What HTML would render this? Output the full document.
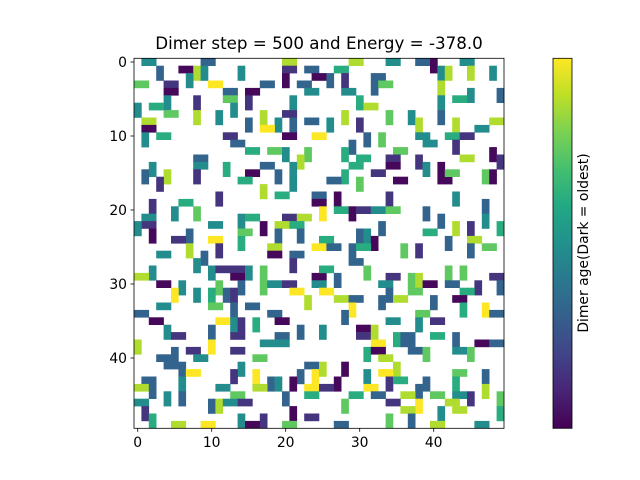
<!DOCTYPE html>
<html><head><meta charset="utf-8"><style>
html,body{margin:0;padding:0;background:#fff;}
svg{display:block;font-family:"DejaVu Sans","Liberation Sans",sans-serif;}
</style></head><body>
<svg id="chart" width="640" height="480" viewBox="0 0 640 480">
<defs><linearGradient id="vir" x1="0" y1="1" x2="0" y2="0">
<stop offset="0" stop-color="#440154"/><stop offset="0.1" stop-color="#482475"/><stop offset="0.2" stop-color="#414487"/><stop offset="0.3" stop-color="#355f8d"/><stop offset="0.4" stop-color="#2a788e"/><stop offset="0.5" stop-color="#21918c"/><stop offset="0.6" stop-color="#22a884"/><stop offset="0.7" stop-color="#44bf70"/><stop offset="0.8" stop-color="#7ad151"/><stop offset="0.9" stop-color="#bddf26"/><stop offset="1" stop-color="#fde725"/></linearGradient></defs>
<text x="319" y="49" text-anchor="middle" font-size="16.7" fill="#000">Dimer step = 500 and Energy = -378.0</text>
<g id="cells"></g>
<rect x="134" y="58.3" width="370" height="370" fill="none" stroke="#000" stroke-width="0.8"/>
<g id="xticks"></g>
<g id="yticks"></g>
<rect x="553" y="58.3" width="19" height="370" fill="url(#vir)" stroke="#000" stroke-width="0.8"/>
<text transform="translate(588,243) rotate(-90)" text-anchor="middle" font-size="13.9" fill="#000">Dimer age(Dark = oldest)</text>
</svg>
<script>
const gridSize = 50;
const xTickValues = [0, 10, 20, 30, 40];
const yTickValues = [0, 10, 20, 30, 40];
const ageLevels = {a:0.02,b:0.15,c:0.32,d:0.48,e:0.62,f:0.75,g:0.88,h:1.0};
// each dimer: [row, col, direction (h/v), age level]
const dimers = [
[0,1,'h','d'],[0,9,'h','c'],[0,20,'h','g'],[1,3,'v','c'],[1,6,'h','a'],[1,8,'v','g'],[1,9,'v','d'],[1,14,'v','d'],[1,20,'h','b'],[1,23,'h','c'],[2,24,'h','a'],[2,20,'v','a'],[3,0,'h','f'],[3,4,'h','b'],[2,7,'v','d'],[3,10,'h','h'],[3,17,'h','c'],[3,22,'h','c'],[4,4,'h','a'],[4,12,'h','c'],[4,15,'h','a'],[4,23,'h','d'],[5,4,'v','d'],[5,8,'v','b'],[5,12,'h','f'],[5,15,'v','b'],[5,21,'v','d'],[6,0,'v','d'],[6,2,'h','e'],[6,13,'v','d'],[7,4,'h','f'],[7,8,'v','g'],[7,11,'v','d'],[7,17,'v','g'],[7,20,'h','b'],[8,1,'h','g'],[8,15,'v','c'],[8,19,'v','d'],[8,21,'v','c'],[8,23,'h','c'],[9,1,'h','a'],[9,17,'h','h'],[10,1,'v','d'],[10,3,'h','e'],[10,12,'h','b'],[10,20,'h','a'],[10,24,'h','h'],[11,13,'h','c'],[12,15,'h','e'],[12,18,'h','f'],[12,20,'v','d'],[12,23,'v','f'],[13,8,'h','c'],[13,22,'v','g'],[14,8,'h','d'],[14,2,'v','d'],[14,12,'v','e'],[14,17,'h','c'],[14,21,'v','d'],[15,1,'v','c'],[15,4,'v','g'],[15,8,'v','b'],[15,15,'h','a'],[15,19,'v','c'],[16,3,'v','b'],[16,14,'h','e'],[16,21,'v','d'],[17,17,'v','g'],[18,11,'v','b'],[18,19,'h','e'],[18,24,'h','c'],[19,2,'v','b'],[19,6,'h','e'],[19,24,'h','a'],[20,5,'v','d'],[20,8,'v','f'],[21,1,'h','d'],[21,14,'v','d'],[21,15,'h','e'],[21,20,'h','b'],[21,22,'h','g'],[22,1,'h','b'],[22,0,'v','d'],[22,10,'h','d'],[22,17,'v','a'],[22,19,'h','g'],[22,21,'h','e'],[23,2,'v','a'],[23,7,'v','c'],[23,14,'h','f'],[23,19,'v','c'],[23,22,'v','c'],[24,5,'h','b'],[24,10,'h','h'],[24,14,'v','e'],
[0,29,'h','g'],[0,34,'h','d'],[0,38,'h','c'],[0,40,'v','a'],[0,44,'h','d'],[1,27,'h','e'],[1,41,'v','d'],[1,42,'v','g'],[1,45,'v','g'],[1,48,'v','d'],[2,26,'v','c'],[2,28,'v','b'],[2,32,'h','c'],[3,32,'v','c'],[3,33,'h','f'],[3,41,'v','g'],[4,28,'h','d'],[4,45,'v','d'],[4,49,'v','c'],[5,30,'v','e'],[6,31,'h','g'],[5,41,'v','d'],[5,43,'h','e'],[7,41,'v','c'],[7,28,'v','g'],[7,34,'v','f'],[7,37,'v','d'],[8,26,'v','d'],[8,30,'v','b'],[8,38,'v','g'],[8,43,'v','g'],[8,48,'h','g'],[9,46,'h','d'],[10,31,'v','c'],[10,33,'v','f'],[10,38,'h','d'],[10,42,'h','e'],[10,44,'h','b'],[11,29,'v','c'],[11,39,'h','d'],[11,43,'v','b'],[12,28,'v','e'],[12,35,'h','f'],[12,48,'v','a'],[13,30,'h','e'],[13,34,'h','b'],[14,34,'h','a'],[13,38,'v','b'],[13,44,'h','g'],[13,49,'v','b'],[14,29,'h','e'],[14,39,'v','d'],[14,41,'v','a'],[16,41,'h','a'],[15,42,'h','f'],[15,28,'v','e'],[15,32,'h','b'],[15,47,'v','f'],[15,48,'v','a'],[16,26,'h','c'],[16,30,'v','f'],[16,35,'h','a'],[18,27,'v','a'],[18,34,'v','b'],[18,43,'v','d'],[19,47,'v','c'],[20,25,'v','h'],[20,27,'h','e'],[20,29,'v','a'],[20,30,'h','b'],[20,32,'h','d'],[20,34,'h','f'],[20,39,'v','c'],[21,41,'v','c'],[21,47,'v','d'],[22,33,'v','c'],[22,43,'v','g'],[22,45,'v','b'],[22,49,'v','e'],[23,30,'v','c'],[23,31,'v','d'],[23,39,'h','e'],[24,25,'h','e'],[24,32,'v','a'],[24,42,'v','c'],[24,45,'h','g'],
[25,7,'v','g'],[25,11,'v','b'],[25,18,'h','g'],[25,24,'h','h'],[26,3,'h','d'],[26,9,'v','c'],[26,18,'h','a'],[26,21,'h','c'],[27,8,'v','d'],[28,2,'v','d'],[28,10,'v','d'],[28,11,'h','b'],[28,13,'h','b'],[29,13,'h','a'],[28,15,'v','d'],[28,17,'v','f'],[27,21,'v','b'],[29,0,'h','g'],[29,24,'h','a'],[30,3,'h','a'],[30,6,'v','d'],[30,11,'v','f'],[30,14,'v','c'],[30,17,'v','f'],[30,18,'h','d'],[30,20,'h','b'],[30,24,'h','d'],[31,5,'v','h'],[31,8,'v','d'],[31,10,'v','e'],[31,12,'v','c'],[31,13,'v','b'],[31,21,'h','h'],[33,3,'h','d'],[33,10,'h','f'],[33,13,'v','c'],[33,15,'h','c'],[32,23,'v','g'],[34,0,'h','c'],[34,18,'h','c'],[35,2,'h','a'],[35,11,'h','h'],[35,13,'v','d'],[35,14,'v','b'],[35,16,'v','e'],[35,19,'h','a'],[36,4,'v','d'],[37,5,'h','b'],[36,10,'v','c'],[37,13,'h','b'],[37,19,'h','c'],[36,22,'v','c'],[38,0,'v','g'],[38,10,'v','h'],[38,17,'h','d'],[38,19,'h','d'],[39,5,'v','c'],[39,7,'h','b'],[39,13,'h','b'],[40,8,'h','d'],[40,3,'h','c'],[40,16,'h','f'],[41,4,'h','c'],[41,6,'v','c'],[41,14,'v','d'],[41,23,'h','c'],[42,7,'h','h'],[42,13,'v','b'],[42,16,'v','h'],[42,22,'v','c'],[42,24,'v','h'],[43,1,'h','c'],[43,6,'v','d'],[43,18,'v','c'],[43,19,'v','d'],[43,21,'v','a'],[44,0,'h','g'],[44,2,'v','c'],[44,11,'h','d'],[44,16,'h','g'],[44,23,'h','h'],[45,23,'h','e'],[46,0,'h','d'],[45,4,'v','d'],[45,6,'v','c'],[45,13,'h','f'],[45,20,'v','c'],[46,10,'v','c'],[46,11,'v','g'],[46,12,'h','d'],[46,14,'h','b'],[47,1,'v','b'],[47,21,'v','a'],[48,23,'h','b'],[48,2,'v','e'],[49,5,'h','g'],[49,9,'h','h'],[48,14,'v','d'],[49,15,'h','a'],[48,17,'v','b'],[49,20,'h','f'],
[25,26,'h','c'],[25,29,'v','c'],[27,29,'h','c'],[25,30,'h','e'],[25,36,'v','f'],[25,38,'v','b'],[25,45,'v','c'],[25,47,'h','f'],[28,25,'h','e'],[28,31,'v','f'],[28,42,'v','f'],[28,44,'v','f'],[29,27,'v','c'],[29,34,'h','b'],[29,37,'v','f'],[29,38,'v','g'],[29,48,'h','b'],[30,33,'h','d'],[30,39,'h','a'],[30,42,'h','c'],[30,46,'v','b'],[30,49,'v','c'],[31,25,'h','h'],[31,34,'v','c'],[31,37,'h','f'],[31,44,'h','e'],[32,27,'h','g'],[32,29,'h','c'],[32,33,'v','c'],[32,35,'h','g'],[32,40,'v','c'],[32,43,'h','a'],[33,29,'v','h'],[33,44,'v','e'],[33,47,'v','h'],[34,28,'v','c'],[34,38,'h','f'],[34,48,'h','c'],[35,34,'h','d'],[35,38,'v','d'],[35,40,'h','b'],[36,25,'v','d'],[36,30,'h','a'],[37,30,'h','b'],[36,32,'v','g'],[37,35,'v','e'],[37,36,'h','c'],[37,40,'h','e'],[37,43,'v','c'],[38,32,'h','h'],[38,36,'h','c'],[38,46,'h','a'],[38,48,'h','c'],[39,31,'v','e'],[39,32,'h','a'],[39,37,'h','c'],[39,39,'v','f'],[39,43,'h','d'],[39,45,'v','f'],[40,33,'h','g'],[41,25,'v','g'],[41,28,'v','a'],[41,35,'v','g'],[42,31,'v','d'],[42,33,'h','h'],[42,43,'h','f'],[42,47,'v','c'],[43,27,'v','a'],[43,34,'v','b'],[43,35,'h','e'],[43,39,'v','c'],[43,43,'v','e'],[44,25,'h','b'],[44,31,'h','h'],[44,38,'v','c'],[44,47,'v','g'],[45,29,'h','e'],[45,32,'h','c'],[45,36,'h','g'],[45,40,'h','f'],[45,43,'h','d'],[45,45,'v','b'],[45,49,'v','f'],[46,28,'v','f'],[46,34,'h','b'],[46,38,'v','h'],[46,42,'h','g'],[47,36,'h','g'],[47,41,'v','d'],[47,43,'h','g'],[47,49,'v','e'],[48,34,'v','f'],[48,37,'v','c'],[49,46,'h','d'],[49,27,'h','c'],[49,40,'h','g']
];

const X0 = 134, Y0 = 58.3, CELL = 370 / gridSize;
function xScale(c){ return X0 + c * CELL; }
function yScale(r){ return Y0 + r * CELL; }
const stops = ["#440154","#482475","#414487","#355f8d","#2a788e","#21918c","#22a884","#44bf70","#7ad151","#bddf26","#fde725"];
function hex(h){ return [1,3,5].map(i=>parseInt(h.substr(i,2),16)); }
function viridis(t){
  t = Math.max(0, Math.min(1, t));
  const p = t * (stops.length - 1), i = Math.min(Math.floor(p), stops.length - 2), f = p - i;
  const a = hex(stops[i]), b = hex(stops[i+1]);
  return "rgb(" + a.map((v,k)=>Math.round(v + (b[k]-v)*f)).join(",") + ")";
}
const NS = "http://www.w3.org/2000/svg";
const cells = document.getElementById("cells");
dimers.forEach(function(d){
  const r = d[0], c = d[1], dir = d[2], age = ageLevels[d[3]];
  const rect = document.createElementNS(NS, "rect");
  
  
  const w = dir === 'h' ? 2 : 1, h = dir === 'v' ? 2 : 1;
  const cc = Math.min(c, gridSize - w), rr = Math.min(r, gridSize - h);
  rect.setAttribute("x", xScale(cc));
  rect.setAttribute("y", yScale(rr));
  rect.setAttribute("width", CELL * w + 0.3);
  rect.setAttribute("height", CELL * h + 0.3);
  rect.setAttribute("fill", viridis(age));
  cells.appendChild(rect);
});
const xg = document.getElementById("xticks");
xTickValues.forEach(function(v){
  const x = xScale(v + 0.5);
  const ln = document.createElementNS(NS, "line");
  
  
  ln.setAttribute("x1", x); ln.setAttribute("x2", x);
  ln.setAttribute("y1", 428.3); ln.setAttribute("y2", 431.8);
  ln.setAttribute("stroke", "#000"); ln.setAttribute("stroke-width", "0.8");
  xg.appendChild(ln);
  const t = document.createElementNS(NS, "text");
  
  
  t.setAttribute("x", x); t.setAttribute("y", 447);
  t.setAttribute("text-anchor", "middle"); t.setAttribute("font-size", "13.9");
  t.textContent = v;
  xg.appendChild(t);
});
const yg = document.getElementById("yticks");
yTickValues.forEach(function(v){
  const y = yScale(v + 0.5);
  const ln = document.createElementNS(NS, "line");
  
  
  ln.setAttribute("x1", 130.5); ln.setAttribute("x2", 134);
  ln.setAttribute("y1", y); ln.setAttribute("y2", y);
  ln.setAttribute("stroke", "#000"); ln.setAttribute("stroke-width", "0.8");
  yg.appendChild(ln);
  const t = document.createElementNS(NS, "text");
  
  
  t.setAttribute("x", 127); t.setAttribute("y", y + 5);
  t.setAttribute("text-anchor", "end"); t.setAttribute("font-size", "13.9");
  t.textContent = v;
  yg.appendChild(t);
});
</script>
</body></html>
